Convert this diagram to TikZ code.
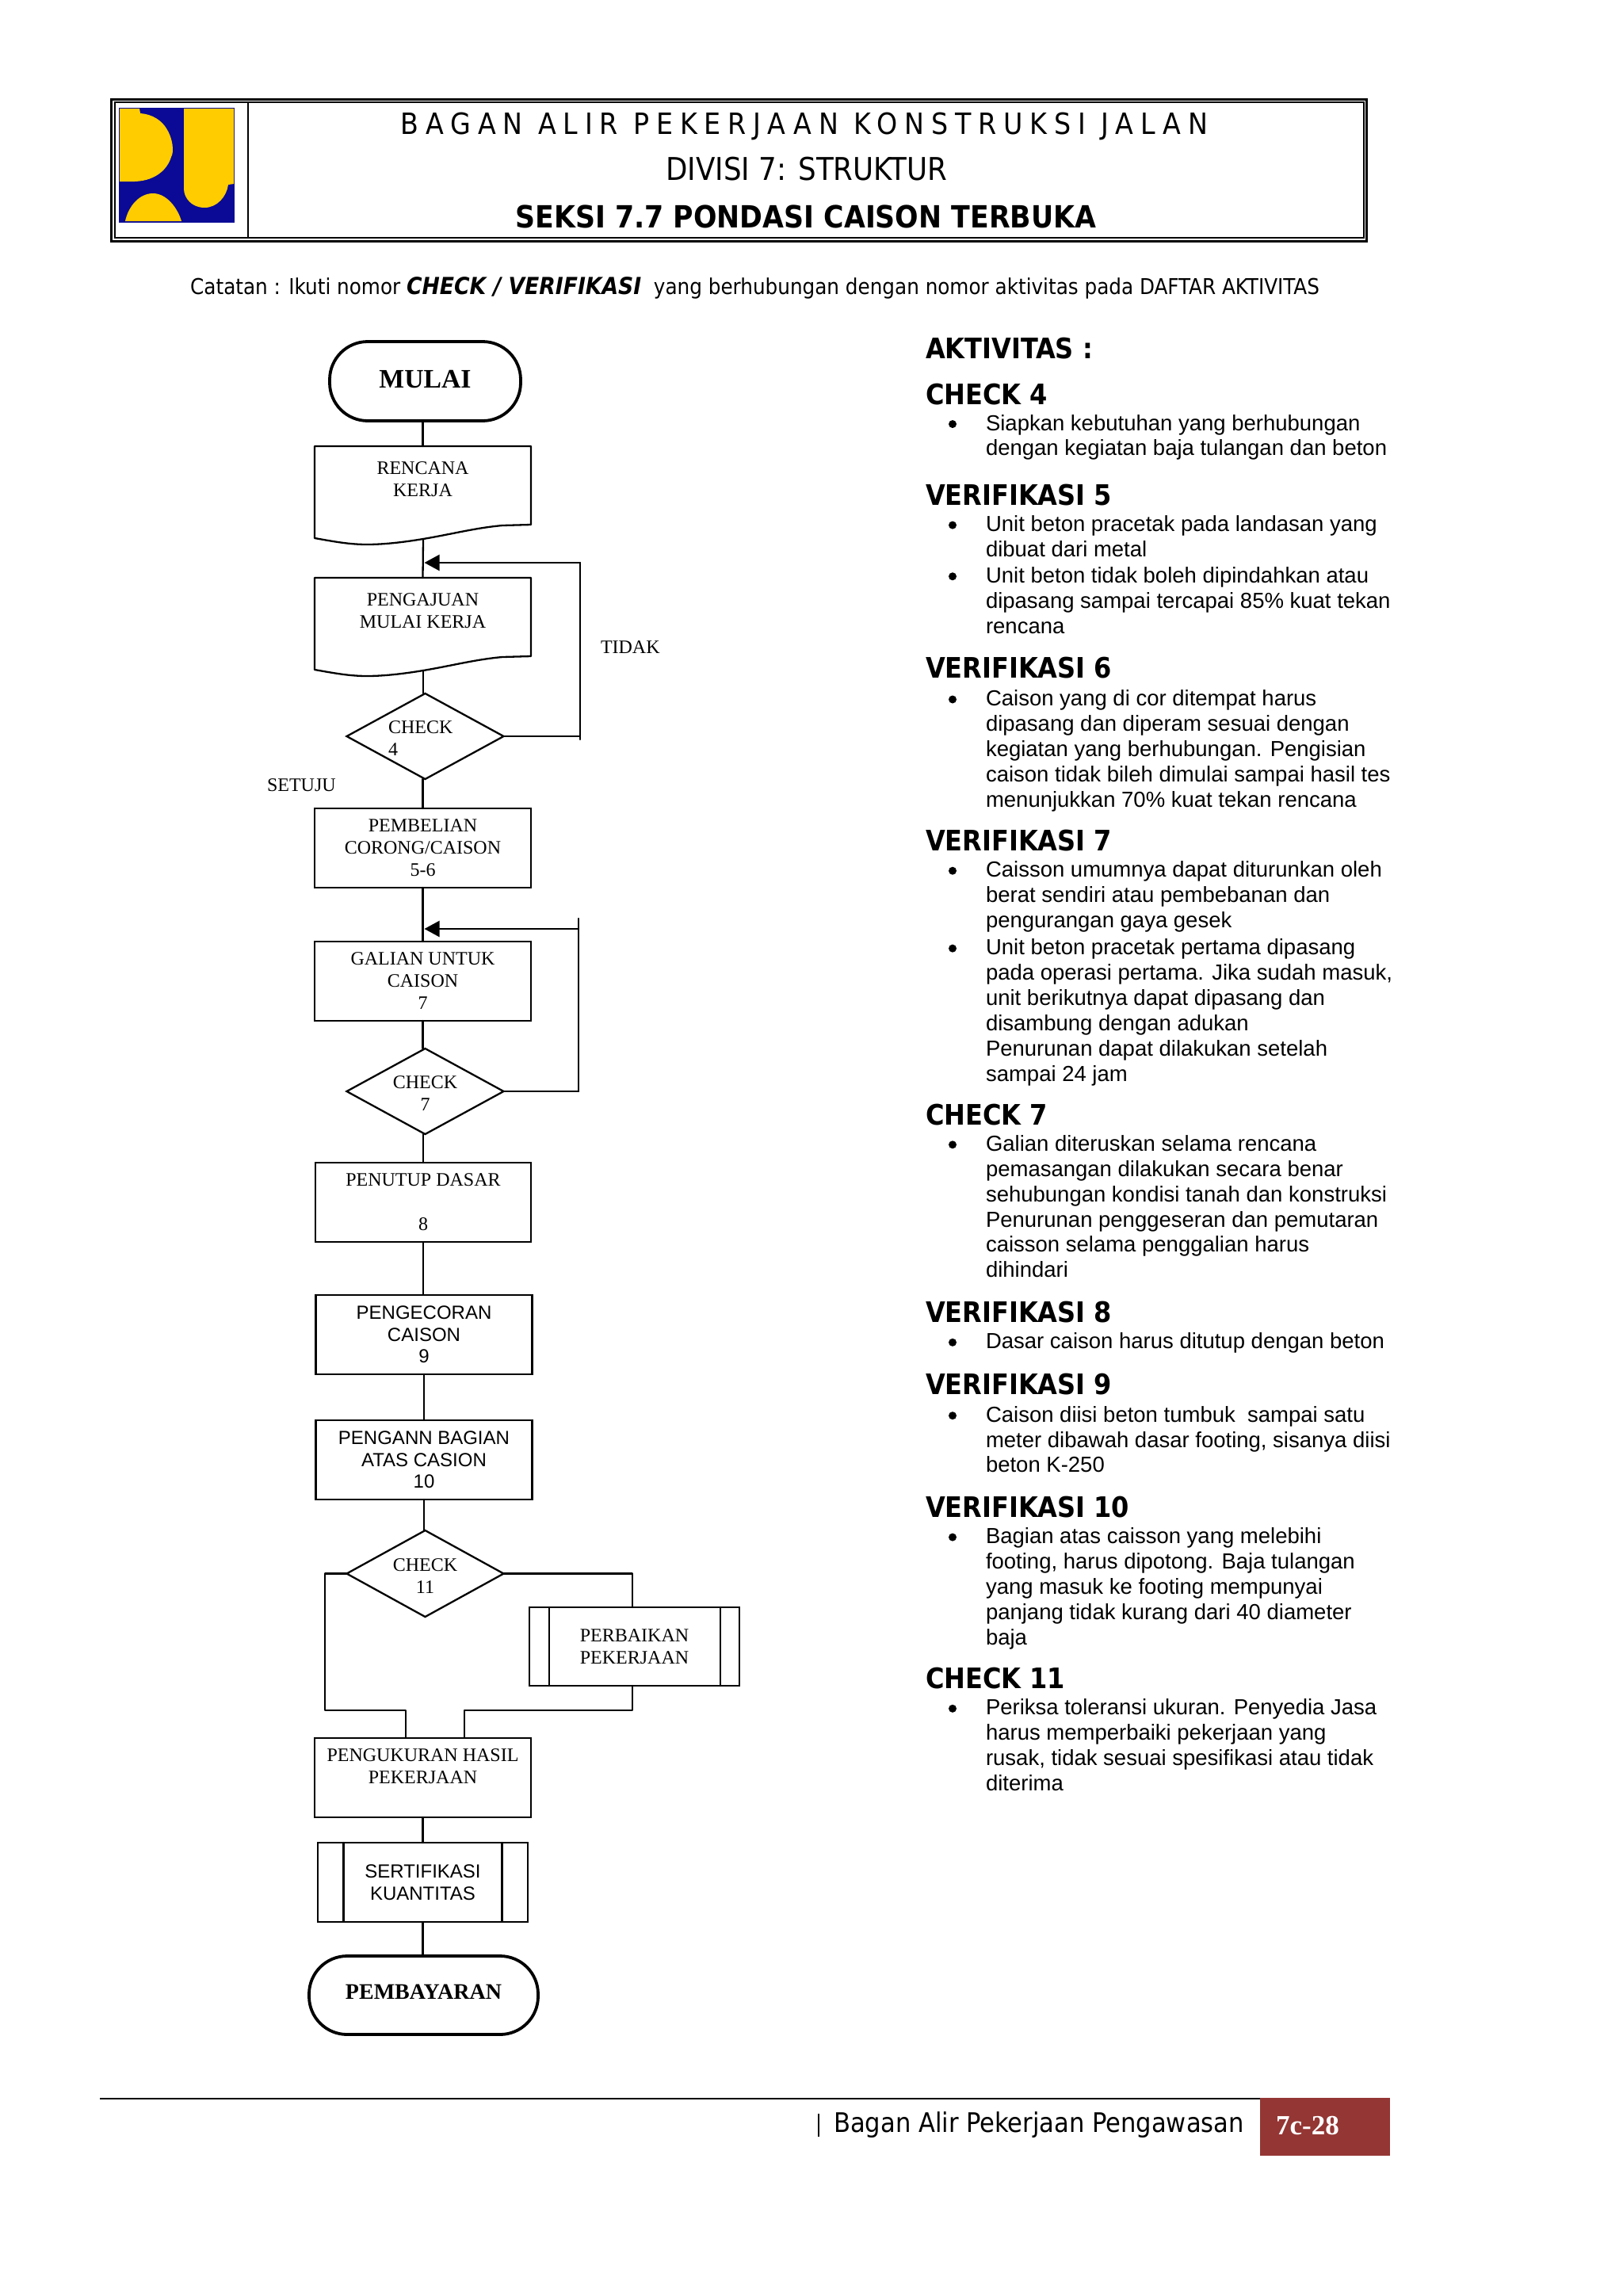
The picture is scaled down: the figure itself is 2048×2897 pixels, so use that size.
\documentclass[tikz,border=0pt]{standalone}
\usepackage{fontspec}
\usetikzlibrary{shapes.geometric,arrows.meta,calc}
\setmainfont{Liberation Serif}
\newfontfamily\arialf{Liberation Sans}
\newfontfamily\tahf{DejaVu Sans Condensed}
\newfontfamily\tahs[LetterSpace=24]{DejaVu Sans Condensed}
\definecolor{logoblue}{HTML}{0A0A96}
\definecolor{logoyellow}{HTML}{FFCC00}
\definecolor{pagered}{HTML}{943634}
\newcommand{\tms}{\fontsize{24pt}{28pt}\selectfont}
\newcommand{\ari}{\arialf\fontsize{24pt}{27.5pt}\selectfont}
\newcommand{\zbox}[1]{\smash{\makebox[0pt]{\raisebox{-11.5pt}{\begin{tabular}{@{}c@{}}#1\end{tabular}}}}}
\newcommand{\zboxl}[2]{\smash{\makebox[0pt][l]{\hspace{#1}\raisebox{-11.5pt}{\begin{tabular}{@{}l@{}}#2\end{tabular}}}}}
\newcounter{blk}
\newcommand{\hd}[2]{\stepcounter{blk}\node[headtxt] (h\arabic{blk}) at (1168,{#1*1.848+13}) {#2};}
\newcommand{\bl}[2]{\stepcounter{blk}\node[bodytxt] (t\arabic{blk}) at (1244,{#1*1.848-11}) {\rule{0pt}{20pt}#2};\node[bulletdot] (d\arabic{blk}) at (1202,{#1*1.848+1}) {};}
\newcommand{\docshape}[1]{\draw[conn,shift={(0,#1)}] (397,563) -- (670,563) -- (670,662) -- (634,663) .. controls (600,666) and (570,674) .. (534,680) .. controls (510,684) and (485,687) .. (463,687) .. controls (440,687) and (420,683) .. (397,679) -- cycle;}
\tikzset{
 conn/.style={line width=2.3pt,line cap=round,line join=round},
 proc/.style={draw,line width=2.3pt,rectangle,inner sep=0pt,outer sep=0pt,align=center,minimum width=273pt,minimum height=100pt,font=\tms},
 doc/.style={rectangle,inner sep=0pt,outer sep=0pt,align=center,minimum width=273pt,minimum height=112pt,font=\tms},
 termin/.style={draw,line width=3.8pt,rectangle,rounded corners=48pt,inner sep=0pt,outer sep=0pt,align=center,font=\bfseries},
 decision/.style={draw,line width=2.3pt,diamond,inner sep=0pt,outer sep=0pt,minimum width=198pt,minimum height=108pt,font=\tms},
 plain/.style={inner sep=0pt,outer sep=0pt,font=\tms},
 headtxt/.style={anchor=base west,inner sep=0pt,outer sep=0pt,font=\tahf\bfseries\fontsize{35.6pt}{40pt}\selectfont},
 bodytxt/.style={anchor=north west,inner sep=0pt,outer sep=0pt,align=left,font=\arialf\fontsize{27.5pt}{31.9pt}\selectfont},
 bulletdot/.style={circle,fill=black,inner sep=0pt,outer sep=0pt,minimum size=10pt},
}
\begin{document}
\begin{tikzpicture}[x=1pt,y=-1pt]
\useasboundingbox (0,0) rectangle (2048,2897);
\fill[white] (0,0) rectangle (2048,2897);
% header
\draw[line width=3pt] (140,125.5) rectangle (1724.5,304);
\draw[line width=2pt] (144.5,129) rectangle (1720.5,300);
\draw[line width=1.5pt] (313,129) -- (313,300);
% logo
\fill[logoblue] (150,136) rectangle (296,281);
\fill[logoyellow] (151,137) -- (176,137) -- (177,143) .. controls (192,144) and (204,152) .. (210,162) .. controls (218,174) and (220,192) .. (216,198) .. controls (212,212) and (198,228) .. (170,229) -- (151,229) -- cycle;
\fill[logoyellow] (232,137) -- (295,137) -- (295,232) -- (288,233) .. controls (286,248) and (274,262) .. (258,262) .. controls (242,262) and (232,250) .. (232,238) -- cycle;
\fill[logoyellow] (158,279) .. controls (162,260) and (176,244) .. (193,244) .. controls (210,244) and (224,262) .. (229,279) -- cycle;
% titles
\node[inner sep=0pt,font=\tahs\fontsize{37pt}{40pt}\selectfont] (title1) at (1015,159) {BAGAN ALIR PEKERJAAN KONSTRUKSI JALAN};
\node[inner sep=0pt,font=\tahf\fontsize{39.6pt}{40pt}\selectfont] (title2) at (1018,213) {DIVISI 7: STRUKTUR};
\node[inner sep=0pt,font=\tahf\bfseries\fontsize{38.6pt}{40pt}\selectfont] (title3) at (1017,273) {SEKSI 7.7 PONDASI CAISON TERBUKA};
\node[inner sep=0pt,anchor=west,font=\tahf\fontsize{27.45pt}{32pt}\selectfont] (note) at (240,363) {Catatan : Ikuti nomor {\fontsize{29.6pt}{32pt}\selectfont\textbf{\textit{CHECK / VERIFIKASI}}}\ \ yang berhubungan dengan nomor aktivitas pada DAFTAR AKTIVITAS};
% flowchart nodes
\node[termin,minimum width=241pt,minimum height=100pt,font=\bfseries\fontsize{33.7pt}{36pt}\selectfont] (mulai) at (536.5,481) {\raisebox{5pt}{MULAI}};
\node[doc] (rencana) at (533.5,619) {RENCANA\\KERJA\\~};
\coordinate (rencanaB) at (534,680);
\docshape{0}
\node[doc] (pengajuan) at (533.5,785) {PENGAJUAN\\MULAI KERJA\\~};
\coordinate (pengajuanB) at (534,846);
\docshape{166}
\node[decision] (c4) at (536.5,929) {\zboxl{-46.5pt}{CHECK\\4}};
\node[plain,anchor=mid west] (setuju) at (337,996) {SETUJU};
\node[plain,anchor=mid west] (tidak) at (758,822) {TIDAK};
\node[proc] (pembelian) at (533.5,1070) {PEMBELIAN\\CORONG/CAISON\\5-6};
\node[proc] (galian) at (533.5,1238) {GALIAN UNTUK\\CAISON\\7};
\node[decision] (c7) at (536.5,1377) {\zbox{CHECK\\7}};
\node[proc,minimum width=272pt] (penutup) at (534,1517) {PENUTUP DASAR\\~\\8};
\node[proc,font=\ari] (pengecoran) at (535,1684) {PENGECORAN\\CAISON\\9};
\node[proc,font=\ari] (pengann) at (535,1842) {PENGANN BAGIAN\\ATAS CASION\\10};
\node[decision,minimum height=109pt] (c11) at (536.5,1985.5) {\zbox{CHECK\\11}};
\node[proc,minimum width=265pt,minimum height=99pt] (perbaikan) at (800.5,2077.5) {PERBAIKAN\\PEKERJAAN};
\node[proc] (pengukuran) at (533.5,2243) {PENGUKURAN HASIL\\PEKERJAAN\\~};
\node[proc,font=\ari,minimum width=265pt] (sertifikasi) at (533.5,2375) {SERTIFIKASI\\KUANTITAS};
\node[termin,minimum width=289pt,minimum height=99pt,font=\bfseries\fontsize{28pt}{32pt}\selectfont] (pembayaran) at (534.5,2517.5) {\raisebox{8pt}{PEMBAYARAN}};
% inner bars
\draw[conn] ([xshift=25pt]perbaikan.north west) -- ([xshift=25pt]perbaikan.south west);
\draw[conn] ([xshift=-24pt]perbaikan.north east) -- ([xshift=-24pt]perbaikan.south east);
\draw[conn] ([xshift=32.5pt]sertifikasi.north west) -- ([xshift=32.5pt]sertifikasi.south west);
\draw[conn] ([xshift=-32.5pt]sertifikasi.north east) -- ([xshift=-32.5pt]sertifikasi.south east);
% connectors
\draw[conn] (rencana.north |- mulai.south) -- (rencana.north);
\draw[conn] (rencanaB) -- (pengajuan.north);
\draw[conn] (pengajuanB) -- (pengajuanB |- c4.north);
\draw[conn] (pembelian.north |- c4.south) -- (pembelian.north);
\draw[conn] (pembelian.south) -- (galian.north);
\draw[conn] (galian.south) -- (galian.south |- c7.north);
\draw[conn] (penutup.north |- c7.south) -- (penutup.north);
\draw[conn] (penutup.south) -- (penutup.south |- pengecoran.north);
\draw[conn] (pengecoran.south) -- (pengann.north);
\draw[conn] (pengann.south) -- (pengann.south |- c11.north);
\draw[conn] (pengukuran.south) -- (pengukuran.south |- sertifikasi.north);
\draw[conn] (sertifikasi.south) -- (sertifikasi.south |- pembayaran.north);
% loops
\coordinate (loopA) at (732,710);
\coordinate (loopAend) at (535.5,710);
\coordinate (loopB) at (730,1172);
\coordinate (loopBend) at (535.5,1172);
\draw[conn] (c4.east) -- (c4.east -| loopA);
\draw[conn] (loopA) -- ([yshift=-4pt]loopA |- c4.east);
\draw[conn,-{Triangle[length=19pt,width=20pt]}] (loopA) -- (loopAend);
\draw[conn] (c7.east) -- (c7.east -| loopB);
\coordinate (loopBtop) at (730,1159);
\draw[conn] (loopBtop) -- (loopBtop |- c7.east);
\draw[conn,-{Triangle[length=19pt,width=20pt]}] (loopB) -- (loopBend);
% check 11 branches
\coordinate (leftX) at (410,2158);
\coordinate (leftJoin) at (512,2158);
\coordinate (rightJoin) at (586,2158);
\coordinate (perbIn) at (798,2028);
\coordinate (perbOut) at (798,2127);
\draw[conn] (c11.west) -- (c11.west -| leftX) -- (leftX) -- (leftJoin) -- (leftJoin |- pengukuran.north);
\draw[conn] (c11.east) -- (c11.east -| perbIn) -- (perbIn);
\draw[conn] (perbOut) -- (perbOut |- rightJoin) -- (rightJoin) -- (rightJoin |- pengukuran.north);
% right column
\node[headtxt] (aktivitas) at (1168,{238*1.848+13}) {AKTIVITAS :};
\hd{269}{CHECK 4}
\bl{289}{Siapkan kebutuhan yang berhubungan\\dengan kegiatan baja tulangan dan beton}
\hd{338}{VERIFIKASI 5}
\bl{358}{Unit beton pracetak pada landasan yang\\dibuat dari metal}
\bl{393}{Unit beton tidak boleh dipindahkan atau\\dipasang sampai tercapai 85\% kuat tekan\\rencana}
\hd{456}{VERIFIKASI 6}
\bl{477}{Caison yang di cor ditempat harus\\dipasang dan diperam sesuai dengan\\kegiatan yang berhubungan. Pengisian\\caison tidak bileh dimulai sampai hasil tes\\menunjukkan 70\% kuat tekan rencana}
\hd{574}{VERIFIKASI 7}
\bl{594}{Caisson umumnya dapat diturunkan oleh\\berat sendiri atau pembebanan dan\\pengurangan gaya gesek}
\bl{647}{Unit beton pracetak pertama dipasang\\pada operasi pertama. Jika sudah masuk,\\unit berikutnya dapat dipasang dan\\disambung dengan adukan\\Penurunan dapat dilakukan setelah\\sampai 24 jam}
\hd{761}{CHECK 7}
\bl{781}{Galian diteruskan selama rencana\\pemasangan dilakukan secara benar\\sehubungan kondisi tanah dan konstruksi\\Penurunan penggeseran dan pemutaran\\caisson selama penggalian harus\\dihindari}
\hd{896}{VERIFIKASI 8}
\bl{916}{Dasar caison harus ditutup dengan beton}
\hd{945}{VERIFIKASI 9}
\bl{966}{Caison diisi beton tumbuk\ \ sampai satu\\meter dibawah dasar footing, sisanya diisi\\beton K-250}
\hd{1029}{VERIFIKASI 10}
\bl{1049}{Bagian atas caisson yang melebihi\\footing, harus dipotong. Baja tulangan\\yang masuk ke footing mempunyai\\panjang tidak kurang dari 40 diameter\\baja}
\hd{1146}{CHECK 11}
\bl{1166}{Periksa toleransi ukuran. Penyedia Jasa\\harus memperbaiki pekerjaan yang\\rusak, tidak sesuai spesifikasi atau tidak\\diterima}
% footer
\fill[pagered] (1590,2647) rectangle (1754,2720);
\draw[line width=2.5pt] (126,2648) -- (1590,2648);
\node[anchor=mid west,inner sep=0pt,font=\tahf\fontsize{34pt}{36pt}\selectfont] (foot) at (1052,2688) {Bagan Alir Pekerjaan Pengawasan};
\draw[line width=1.5pt] (1033,2667) -- (1033,2696);
\node[inner sep=0pt,text=white,font=\bfseries\fontsize{35pt}{38pt}\selectfont] (pageno) at (1650,2682) {7c-28};
\end{tikzpicture}
\end{document}
